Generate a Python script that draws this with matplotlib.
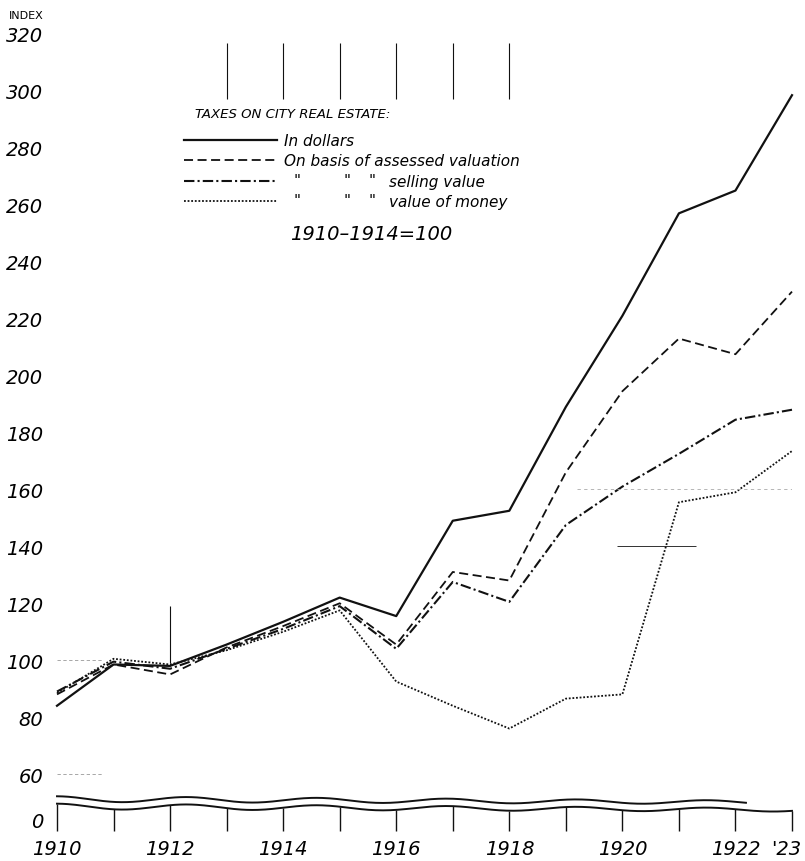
import matplotlib.pyplot as plt
import matplotlib.transforms as mtransforms
import numpy as np

# data (index, 1910-1914 = 100)
years = list(range(1910, 1924))
in_dollars = [84, 98.5, 98, 105.5, 113.5, 122, 115.5, 149, 152.5, 189, 221, 257, 265, 298.5]
assessed = [88, 98.5, 95, 104.5, 112, 120, 105.5, 131, 128, 166, 194.5, 213, 207.5, 229.5]
selling = [89, 99.5, 97, 104, 111, 119, 104, 127.5, 120.5, 147.5, 161, 172.5, 184.5, 188]
money = [88.5, 100.5, 98.5, 103.5, 110, 117.5, 92.5, 84, 76, 86.5, 88, 155.5, 159, 173.5]

ytick_vals = [40, 60, 80, 100, 120, 140, 160, 180, 200, 220, 240, 260, 280, 300, 320]
ytick_labels = ['0', '60', '80', '100', '120', '140', '160', '180', '200',
                '220', '240', '260', '280', '300', '320']
xtick_vals = [1910, 1912, 1914, 1916, 1918, 1920, 1922, 1923]
xtick_labels = ['1910', '1912', '1914', '1916', '1918', '1920', '1922', "'23"]

styles = {
    'solid': dict(ls='-', lw=1.6),
    'dashed': dict(ls=(0, (5, 2.5)), lw=1.3),
    'dashdot': dict(ls=(0, (5, 1.5, 1, 1.5)), lw=1.5),
    'dotted': dict(ls=(0, (1, 1)), lw=1.3),
}
ink = '#111111'
font = dict(family='DejaVu Sans', style='oblique')

fig = plt.figure(figsize=(8.05, 8.62), dpi=100)
ax = fig.add_axes([57 / 805, 30 / 862, 735 / 805, 797 / 862])
ax.set_xlim(1910, 1923)
ax.set_ylim(40, 320)

ax.plot(years, in_dollars, color=ink, clip_on=False, **styles['solid'])
ax.plot(years, assessed, color=ink, clip_on=False, **styles['dashed'])
ax.plot(years, selling, color=ink, clip_on=False, **styles['dashdot'])
ax.plot(years, money, color=ink, clip_on=False, **styles['dotted'])

# leftover grid stubs from the original drawing
ax.vlines([1913, 1914, 1915, 1916, 1917, 1918], 297, 317, color=ink, lw=0.8)
ax.vlines([1912], 99, 119, color=ink, lw=0.8)
ax.hlines([140], 1919.9, 1921.3, color=ink, lw=0.6)
ax.hlines([100, 60], 1910, 1910.8, color='#999999', lw=0.6, ls=(0, (4, 3)))
ax.hlines([160], 1919.2, 1923, color='#aaaaaa', lw=0.6, ls=(0, (4, 4)))

# broken axis: two wavy lines, year ticks drop from the lower one
xs = np.linspace(1910, 1923, 400)


def wave(x):
    t = np.asarray(x, dtype=float) - 1910
    amp = 1.0 - 0.03 * t
    return 48.6 + amp * np.cos(2 * np.pi * t / 2.3) - 0.09 * t


ax.plot(xs, wave(xs), color=ink, lw=1.4, clip_on=False)
up = xs <= 1922.2
ax.plot(xs[up], wave(xs[up]) + 2.6, color=ink, lw=1.4, clip_on=False)
ax.vlines(years, 40, wave(years), color=ink, lw=1.0, clip_on=False)

ax.set_yticks(ytick_vals)
ax.set_yticklabels(ytick_labels, fontsize=14, **font)
ax.set_xticks(xtick_vals)
ax.set_xticklabels(xtick_labels, fontsize=14, **font)
ax.tick_params(axis='y', length=0, pad=10)
ax.tick_params(axis='x', length=0, pad=6)
for s in ax.spines.values():
    s.set_visible(False)

# the '0' sits just above the base, the '23 is pulled in from the edge
ax.get_yticklabels()[0].set_va('bottom')
last = ax.get_xticklabels()[-1]
last.set_transform(last.get_transform() + mtransforms.ScaledTranslation(-6 / 100, 0, fig.dpi_scale_trans))

fig.text(9 / 805, 1 - 16 / 862, 'INDEX', fontsize=8, va='center', ha='left', family='DejaVu Sans')


# legend drawn by hand
def fx(px):
    return px / 805


def fy(py):
    return 1 - py / 862


fig.text(fx(195), fy(114), 'TAXES ON CITY REAL ESTATE:', fontsize=9.5, va='center', ha='left', **font)
rows = [('solid', 141), ('dashed', 161), ('dashdot', 182), ('dotted', 202)]
for key, py in rows:
    fig.add_artist(plt.Line2D([fx(184), fx(277)], [fy(py), fy(py)], color=ink,
                              transform=fig.transFigure, **styles[key]))
fig.text(fx(284), fy(141), 'In dollars', fontsize=11, va='center', ha='left', **font)
fig.text(fx(284), fy(161), 'On basis of assessed valuation', fontsize=11, va='center', ha='left', **font)
for py, label in [(182, 'selling value'), (202, 'value of money')]:
    for px in (294, 344, 369):
        fig.text(fx(px), fy(py), '"', fontsize=11, va='center', ha='left', **font)
    fig.text(fx(389), fy(py), label, fontsize=11, va='center', ha='left', **font)
fig.text(fx(371), fy(234), '1910\u20131914=100', fontsize=14, va='center', ha='center', **font)

fig.savefig('out.png', dpi=100, facecolor='white')
